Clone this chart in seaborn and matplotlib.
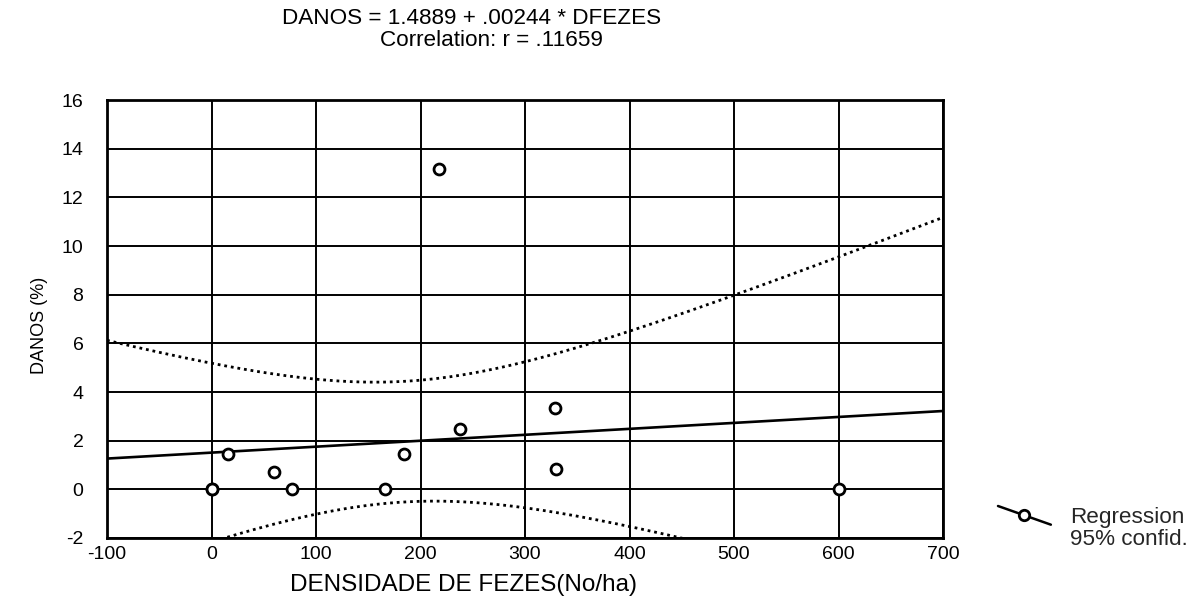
import numpy as np
import pandas as pd
import matplotlib
matplotlib.use("Agg")
import matplotlib.pyplot as plt
import seaborn as sns
from matplotlib.lines import Line2D
from matplotlib.legend_handler import HandlerBase

# ---------------- data ----------------
dfezes = [0, 0, 16, 60, 77, 166, 184, 218, 238, 329, 330, 600]
danos = [0, 0, 1.46, 0.73, 0, 0, 1.46, 13.18, 2.49, 3.36, 0.84, 0]
x_ticks = [-100, 0, 100, 200, 300, 400, 500, 600, 700]
y_ticks = [-2, 0, 2, 4, 6, 8, 10, 12, 14, 16]
title_line1 = "DANOS = 1.4889 + .00244 * DFEZES"
title_line2 = "Correlation: r = .11659"
x_label = "DENSIDADE DE FEZES(No/ha)"
y_label = "DANOS (%)"
legend_labels = ["Regression", "95% confid."]
T_CRIT = 2.228  # Student t (0.975) for df = n - 2 = 10

# ---------------- style ----------------
sns.set_theme(style="white")
plt.rcParams["font.family"] = ["Liberation Sans", "DejaVu Sans"]
plt.rcParams["axes.unicode_minus"] = False

W, H = 1204, 603
fig = plt.figure(figsize=(W / 100, H / 100), dpi=100)
fig.patch.set_facecolor("white")
L, R, T, B = 107, 943, 100, 538
ax = fig.add_axes([L / W, 1 - B / H, (R - L) / W, (B - T) / H])
ax.set_facecolor("white")

# ---------------- regression + 95% confidence band ----------------
df = pd.DataFrame({"DFEZES": dfezes, "DANOS": danos})
X = df["DFEZES"].to_numpy(float)
Y = df["DANOS"].to_numpy(float)
n = len(X)
b1, b0 = np.polyfit(X, Y, 1)
xbar = X.mean()
sxx = ((X - xbar) ** 2).sum()
s = np.sqrt(((Y - (b0 + b1 * X)) ** 2).sum() / (n - 2))
xs = np.linspace(x_ticks[0], x_ticks[-1], 300)
yhat = b0 + b1 * xs
half = T_CRIT * s * np.sqrt(1.0 / n + (xs - xbar) ** 2 / sxx)
fit = pd.DataFrame({"x": xs, "fit": yhat, "lo": yhat - half, "hi": yhat + half})

sns.lineplot(data=fit, x="x", y="fit", color="black", lw=1.9, ax=ax, zorder=3)
for col in ["hi", "lo"]:
    sns.lineplot(data=fit, x="x", y=col, color="black", lw=2.0,
                 linestyle=(0, (1, 1.4)), ax=ax, zorder=3)
sns.scatterplot(data=df, x="DFEZES", y="DANOS", marker="o", s=62,
                color="white", edgecolor="black", linewidth=2.0, ax=ax, zorder=5)

# ---------------- axes ----------------
ax.set_xlim(x_ticks[0], x_ticks[-1])
ax.set_ylim(y_ticks[0], y_ticks[-1])
ax.set_xticks(x_ticks)
ax.set_yticks(y_ticks)
ax.set_xticklabels([str(v) for v in x_ticks], fontsize=14)
ax.set_yticklabels([str(v) for v in y_ticks], fontsize=14)
ax.tick_params(axis="x", length=0, pad=6, colors="black")
ax.tick_params(axis="y", length=0, pad=17, colors="black")
ax.grid(True, color="black", lw=1.4)
ax.set_axisbelow(True)
for sp in ax.spines.values():
    sp.set_visible(True)
    sp.set_color("black")
    sp.set_linewidth(2.0)

ax.set_xlabel(x_label, fontsize=17.5, color="black")
ax.xaxis.set_label_coords((464 - L) / (R - L), -(574 - B) / (B - T))
ax.set_ylabel(y_label, fontsize=13, color="black")
ax.yaxis.set_label_coords((48 - L) / (R - L), (B - 325) / (B - T))

fig.text(472 / W, 1 - 19 / H, title_line1, ha="center", va="center", fontsize=16.2, color="black")
fig.text(491 / W, 1 - 40 / H, title_line2, ha="center", va="center", fontsize=16.2, color="black")


# ---------------- legend ----------------
class SlantHandler(HandlerBase):
    def create_artists(self, legend, orig_handle, xdescent, ydescent,
                       width, height, fontsize, trans):
        x0, y0 = -xdescent, -ydescent
        line = Line2D([x0, x0 + width], [y0 + height, y0], color="black",
                      lw=1.8, transform=trans)
        mark = Line2D([x0 + width / 2], [y0 + height / 2], marker="o",
                      markersize=7.5, markerfacecolor="white",
                      markeredgecolor="black", markeredgewidth=2.0,
                      linestyle="none", transform=trans)
        return [line, mark]


h1 = Line2D([], [], color="black")
h2 = Line2D([], [], color="none", linestyle="none")
leg = ax.legend([h1, h2], legend_labels, handler_map={h1: SlantHandler()},
                loc="upper left", bbox_to_anchor=(998 / W, 1 - 506 / H),
                bbox_transform=fig.transFigure, frameon=False, fontsize=16.2,
                borderpad=0, borderaxespad=0, labelspacing=0.0,
                handlelength=2.35, handleheight=0.9, handletextpad=0.85)

fig.savefig("out.png", dpi=100, facecolor="white")
